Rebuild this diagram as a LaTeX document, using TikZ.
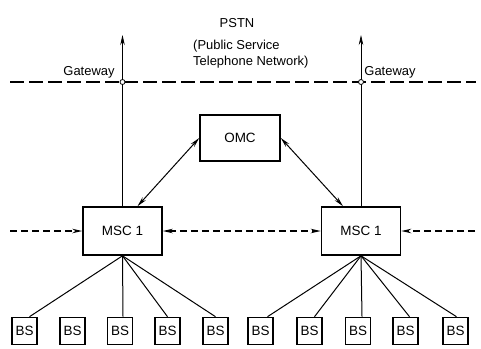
\documentclass[tikz,border=0pt]{standalone}
\usepackage{fontspec}
\setmainfont{Liberation Sans}
\usetikzlibrary{arrows.meta,calc}
\begin{document}
\begin{tikzpicture}[x=1bp,y=-1bp,
  box/.style={draw,line width=1.6bp,inner sep=0pt,font=\fontsize{13.5}{15}\selectfont},
  bsbox/.style={box,minimum width=25bp,minimum height=27bp},
  mscbox/.style={box,minimum width=79bp,minimum height=48bp},
  conn/.style={line width=1bp},
  tip/.style={-{Stealth[length=10bp,width=4.5bp]}},
  dtip/.style={{Stealth[length=10bp,width=4.5bp]}-{Stealth[length=10bp,width=4.5bp]}},
  dash1/.style={line width=1.1bp,dash pattern=on 14bp off 5bp},
  dash2/.style={line width=1.2bp,dash pattern=on 7bp off 4bp},
  lbl/.style={font=\fontsize{13}{15}\selectfont,inner sep=0pt}]
\useasboundingbox (0,0) rectangle (481,348);
% texts
\node[lbl] (pstn) at (237,23) {PSTN};
\node[lbl,anchor=west] (pss) at (193,46) {(Public Service};
\node[lbl,anchor=west] (tn) at (193,62) {Telephone Network)};
\node[lbl] (gwl) at (89,72) {Gateway};
\node[lbl] (gwr) at (390,72) {Gateway};
% boxes
\node[box,minimum width=80bp,minimum height=46bp] (omc) at (240,138) {OMC};
\node[mscbox] (msc1) at (122.5,231) {MSC 1};
\node[mscbox] (msc2) at (361,231) {MSC 1};
\foreach \i/\x in {1/24.5,2/72.5,3/120,4/167.5,5/215.5,6/260.5,7/309.5,8/358,9/405.5,10/455.5}
  \node[bsbox] (bs\i) at (\x,331) {BS};
% PSTN line
\coordinate (pl) at (10,82);
\coordinate (pr) at (476,82);
\draw[dash1] (pl) -- (pr);
% gateway verticals
\coordinate (gtl) at (122.5,35);
\coordinate (gtr) at (361,35);
\draw[line width=0.7bp,tip] (msc1.north) -- (gtl);
\draw[line width=0.7bp,tip] (msc2.north) -- (gtr);
\node[circle,draw,fill=white,line width=0.8bp,inner sep=0pt,minimum size=5bp] (gcl) at (122.5,82) {};
\node[circle,draw,fill=white,line width=0.8bp,inner sep=0pt,minimum size=5bp] (gcr) at (361,82) {};
% OMC links
\draw[conn,dtip] (omc.west) -- ([xshift=15bp]msc1.north);
\draw[conn,dtip] (omc.east) -- ([xshift=-18bp]msc2.north);
% MSC dashed links
\coordinate (dl) at (10,231);
\coordinate (dr) at (475,231);
\draw[dash2,tip] (dl) -- (msc1.west);
\draw[dash2,dtip] (msc1.east) -- (msc2.west);
\draw[dash2,tip] (dr) -- (msc2.east);
% BS links
\draw[conn] (msc1.south) -- ([xshift=5bp]bs1.north);
\draw[conn] (msc1.south) -- ([xshift=3bp]bs3.north);
\draw[conn] (msc1.south) -- (bs4.north);
\draw[conn] (msc1.south) -- (bs5.north);
\draw[conn] (msc2.south) -- ([xshift=7bp]bs6.north);
\draw[conn] (msc2.south) -- ([xshift=5bp]bs7.north);
\draw[conn] (msc2.south) -- ([xshift=4bp]bs8.north);
\draw[conn] (msc2.south) -- ([xshift=4bp]bs9.north);
\draw[conn] (msc2.south) -- ([xshift=1bp]bs10.north);
\end{tikzpicture}
\end{document}
